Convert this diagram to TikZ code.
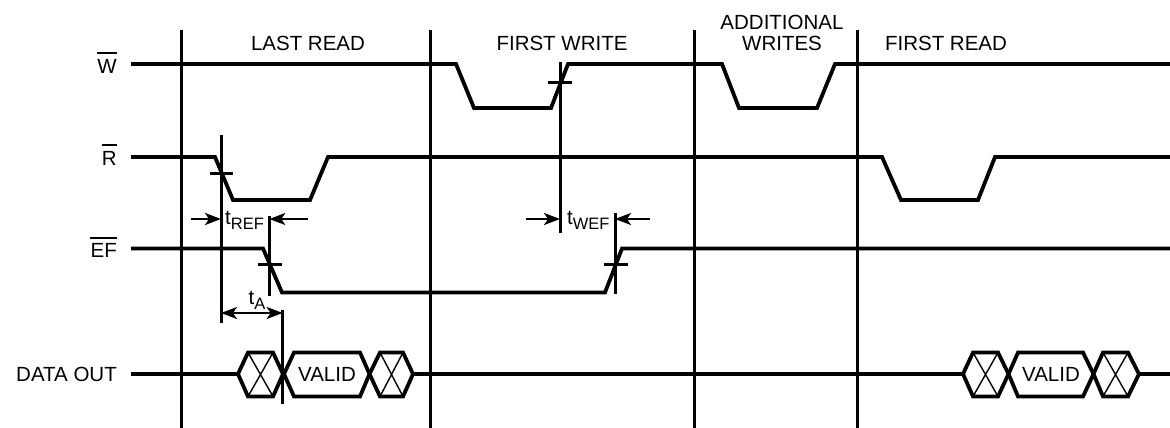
\documentclass[tikz,border=0pt]{standalone}
\usepackage{fontspec}
\setmainfont{Liberation Sans}
\usetikzlibrary{arrows.meta}
\begin{document}
\begin{tikzpicture}[x=1pt,y=-1pt,
  sig/.style={line width=3.8pt, line join=miter, line cap=butt},
  guide/.style={line width=3pt},
  tickln/.style={line width=3pt},
  dimarrow/.style={line width=2.2pt, -{Stealth[length=16pt,width=12pt,inset=4pt]}},
  dimboth/.style={line width=2.2pt, {Stealth[length=16pt,width=12pt,inset=4pt]}-{Stealth[length=16pt,width=12pt,inset=4pt]}},
  lbl/.style={font=\fontsize{20.5}{23}\selectfont, inner sep=0pt},
  hexbox/.style={line width=3.8pt, line join=miter, fill=white},
  xline/.style={line width=1.4pt},
  ovl/.style={line width=1.8pt},
]
\useasboundingbox (0,0) rectangle (1170,428);

% guide lines
\foreach \x in {181,430,694,857} \draw[guide] (\x,30) -- (\x,428);

% header labels
\node[lbl] (hlr) at (308,43) {LAST READ};
\node[lbl] (hfw) at (562,43) {FIRST WRITE};
\node[lbl] (had) at (782,22) {ADDITIONAL};
\node[lbl] (haw) at (782,43) {WRITES};
\node[lbl] (hfr) at (946,43) {FIRST READ};

% signal labels
\node[lbl, anchor=east] (lw) at (117,66) {W};
\draw[ovl] ([yshift=5.5pt]lw.north west) -- ([yshift=5.5pt]lw.north east);
\node[lbl, anchor=east] (lr) at (117,158) {R};
\draw[ovl] ([yshift=5.5pt]lr.north west) -- ([yshift=5.5pt]lr.north east);
\node[lbl, anchor=east] (lef) at (117,250.5) {EF};
\draw[ovl] ([yshift=5.5pt]lef.north west) -- ([yshift=5.5pt]lef.north east);
\node[lbl, anchor=east] (ldo) at (117,374) {DATA OUT};

% W signal
\draw[sig] (131,64) -- (456,64) -- (474,108) -- (551,108) -- (568,64) -- (722,64)
  -- (739,108) -- (817,108) -- (835,64) -- (1170,64);
% R signal
\draw[sig] (131,157) -- (215,157) -- (233,200) -- (310,200) -- (328,157) -- (882,157)
  -- (901,200) -- (978,200) -- (995,157) -- (1170,157);
% EF signal
\draw[sig] (131,248.5) -- (263,248.5) -- (282,292.5) -- (605,292.5) -- (622,248.5) -- (1170,248.5);

% DATA OUT line
\draw[sig] (131,374) -- (238,374);
\draw[sig] (413,374) -- (963,374);
\draw[sig] (1139,374) -- (1170,374);

% hexagons: left group
\draw[hexbox] (238,374) -- (248,352.5) -- (273,352.5) -- (283,374) -- (273,396.5) -- (248,396.5) -- cycle;
\draw[xline] (248,352.5) -- (273,396.5) (273,352.5) -- (248,396.5);
\draw[hexbox] (284,374) -- (294,352.5) -- (360,352.5) -- (369.5,374) -- (360,396.5) -- (294,396.5) -- cycle;
\node[lbl] (v1) at (327,374) {VALID};
\draw[hexbox] (369.5,374) -- (380,352.5) -- (403,352.5) -- (413,374) -- (403,396.5) -- (380,396.5) -- cycle;
\draw[xline] (380,352.5) -- (403,396.5) (403,352.5) -- (380,396.5);

% hexagons: right group
\draw[hexbox] (963,374) -- (973,352.5) -- (998,352.5) -- (1008.5,374) -- (998,396.5) -- (973,396.5) -- cycle;
\draw[xline] (973,352.5) -- (998,396.5) (998,352.5) -- (973,396.5);
\draw[hexbox] (1008.5,374) -- (1018,352.5) -- (1083,352.5) -- (1093.5,374) -- (1083,396.5) -- (1018,396.5) -- cycle;
\node[lbl] (v2) at (1051,374) {VALID};
\draw[hexbox] (1093.5,374) -- (1103,352.5) -- (1128,352.5) -- (1139,374) -- (1128,396.5) -- (1103,396.5) -- cycle;
\draw[xline] (1103,352.5) -- (1128,396.5) (1128,352.5) -- (1103,396.5);

% timing reference marks
\draw[tickln] (210,173.3) -- (233,173.3);
\draw[tickln] (221,135) -- (221,323);
\draw[tickln] (258,264.3) -- (282,264.3);
\draw[tickln] (269.3,216) -- (269.3,296);
\draw[tickln] (548,82.3) -- (572,82.3);
\draw[tickln] (560,62) -- (560,233);
\draw[tickln] (604,264.3) -- (628,264.3);
\draw[tickln] (615,213) -- (615,294);
\draw[tickln] (282.7,310) -- (282.7,404);

% dimension arrows
\coordinate (a1) at (191,219);
\coordinate (a1e) at (221,219);
\coordinate (a2) at (308,219);
\coordinate (a2e) at (269.3,219);
\draw[dimarrow] (a1) -- (a1e);
\draw[dimarrow] (a2) -- (a2e);
\coordinate (b1) at (526,219);
\coordinate (b1e) at (560,219);
\coordinate (b2) at (650,219);
\coordinate (b2e) at (615,219);
\draw[dimarrow] (b1) -- (b1e);
\draw[dimarrow] (b2) -- (b2e);
\coordinate (c1) at (221,313);
\coordinate (c2) at (282.7,313);
\draw[dimboth] (c1) -- (c2);

% dimension labels
\node[lbl, anchor=base west] (tref) at (225,224) {t\raisebox{-5.5pt}{\fontsize{16.5}{18}\selectfont REF}};
\node[lbl, anchor=base west] (twef) at (567,224) {t\raisebox{-5.5pt}{\fontsize{16.5}{18}\selectfont WEF}};
\node[lbl, anchor=base west] (ta) at (248.5,304) {t\raisebox{-5.5pt}{\fontsize{16.5}{18}\selectfont A}};
\end{tikzpicture}
\end{document}
